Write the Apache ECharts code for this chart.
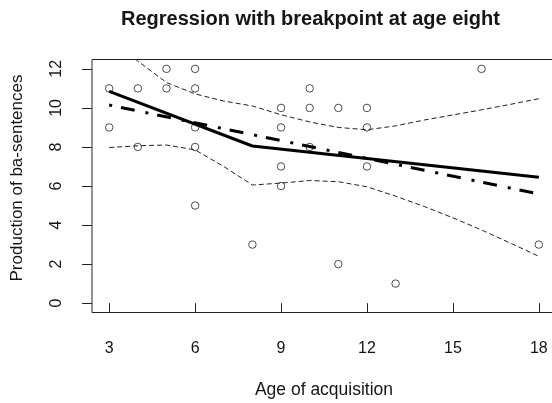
<!DOCTYPE html>
<html>
<head>
<meta charset="utf-8">
<script src="https://cdn.jsdelivr.net/npm/echarts@6/dist/echarts.min.js"></script>
<style>
  html, body { margin: 0; padding: 0; background: #fff; }
  #chart { width: 552px; height: 403px; }
</style>
</head>
<body>
<div id="chart"></div>
<script>
// Observed data: age of acquisition vs production of ba-sentences
var ageObs  = [3, 3, 4, 4, 5, 5, 6, 6, 6, 6, 6, 8, 9, 9, 9, 9, 10, 10, 10, 11, 11, 12, 12, 12, 13, 16, 18];
var prodObs = [11, 9, 11, 8, 12, 11, 12, 11, 9, 8, 5, 3, 10, 9, 7, 6, 11, 10, 8, 10, 2, 10, 9, 7, 1, 12, 3];

// Segmented fit with a break at age 8
var breakAge = [3, 8, 18];
var breakFit = [10.85, 8.05, 6.45];

// Simple straight-line fit
var linAge = [3, 18];
var linFit = [10.15, 5.59];

// Confidence band around the segmented fit
var bandAge   = [3, 4, 5, 6, 7, 8, 9, 10, 11, 12, 13, 14, 15, 16, 17, 18];
var bandUpper = [13.5, 12.4, 11.3, 10.72, 10.35, 10.1, 9.65, 9.28, 9.0, 8.88, 9.08, 9.38, 9.64, 9.9, 10.18, 10.47];
var bandLower = [7.97, 8.06, 8.1, 7.85, 7.0, 6.05, 6.15, 6.28, 6.22, 5.96, 5.48, 4.95, 4.37, 3.75, 3.08, 2.4];

// Axis tick labels
var xTicks = [3, 6, 9, 12, 15, 18];
var yTicks = [0, 2, 4, 6, 8, 10, 12];

function pairs(xs, ys) {
  return xs.map(function (x, i) { return [x, ys[i]]; });
}

var FONT = "'Liberation Sans', Arial, sans-serif";
var INK = '#151515';

var chart = echarts.init(document.getElementById('chart'), null, { renderer: 'canvas' });

chart.setOption({
  animation: false,
  backgroundColor: '#fff',
  title: {
    text: 'Regression with breakpoint at age eight',
    left: 116,
    top: 4,
    textStyle: { fontFamily: FONT, fontWeight: 'bold', fontSize: 20, color: INK }
  },
  grid: {
    left: 92, top: 59.5, width: 464, height: 253,
    outerBoundsMode: 'none', containLabel: false,
    show: true, borderColor: '#222', borderWidth: 1, backgroundColor: 'transparent'
  },
  xAxis: {
    type: 'value', min: 2.4, max: 18.6,
    name: 'Age of acquisition', nameLocation: 'middle', nameGap: 69,
    nameTextStyle: { fontFamily: FONT, fontSize: 17.5, color: INK },
    axisLine: { show: false },
    splitLine: { show: false },
    axisTick: { show: true, customValues: xTicks, length: 10, inside: false, lineStyle: { color: '#222', width: 1 } },
    axisLabel: { customValues: xTicks, margin: 28, fontFamily: FONT, fontSize: 16, color: INK }
  },
  yAxis: {
    type: 'value', min: -0.48, max: 12.48,
    name: 'Production of ba-sentences', nameLocation: 'middle', nameGap: 66,
    nameTextStyle: { fontFamily: FONT, fontSize: 17, color: INK, padding: [0, 0, 0, 16] },
    axisLine: { show: false },
    splitLine: { show: false },
    axisTick: { show: true, customValues: yTicks, length: 10, inside: false, lineStyle: { color: '#222', width: 1 } },
    axisLabel: { customValues: yTicks, rotate: 90, margin: 27, fontFamily: FONT, fontSize: 16, color: INK }
  },
  series: [
    {
      type: 'scatter', data: pairs(ageObs, prodObs), symbol: 'circle', symbolSize: 7.5,
      itemStyle: { color: 'rgba(0,0,0,0)', borderColor: '#222', borderWidth: 1 }
    },
    {
      type: 'line', data: pairs(bandAge, bandUpper), symbol: 'none', clip: true,
      lineStyle: { color: '#222', width: 1, type: [5, 3] }
    },
    {
      type: 'line', data: pairs(bandAge, bandLower), symbol: 'none', clip: true,
      lineStyle: { color: '#222', width: 1, type: [5, 3] }
    },
    {
      type: 'line', data: pairs(linAge, linFit), symbol: 'none',
      lineStyle: { color: '#000', width: 3, type: [3, 9, 14, 11] }
    },
    {
      type: 'line', data: pairs(breakAge, breakFit), symbol: 'none',
      lineStyle: { color: '#000', width: 3, type: 'solid' }
    }
  ]
});
</script>
</body>
</html>
